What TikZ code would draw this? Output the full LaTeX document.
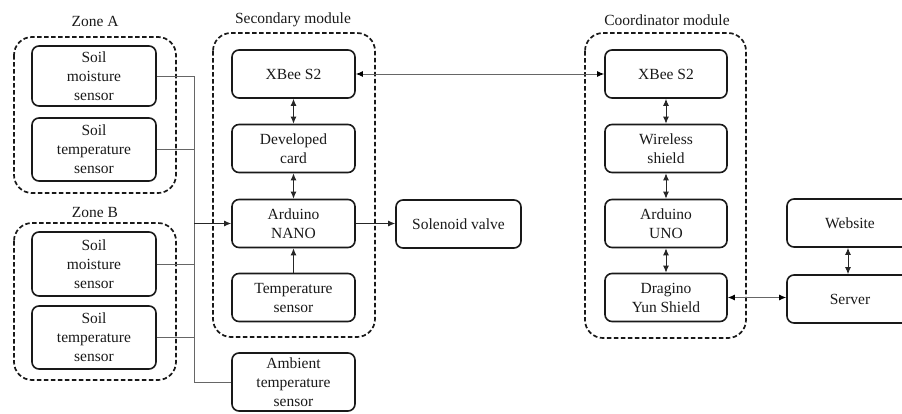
\documentclass[tikz,border=0pt]{standalone}
\usepackage{fontspec}
\setmainfont{Liberation Serif}
\usetikzlibrary{arrows.meta}
\begin{document}
\begin{tikzpicture}[x=1pt,y=-1pt,
  box/.style={draw=black!90, line width=1.6pt, rounded corners=7pt, align=center,
    minimum width=123pt, minimum height=48pt, inner sep=1pt,
    font=\fontsize{15.5}{19}\selectfont, text=black!90},
  group/.style={draw=black!90, line width=1.7pt, dash pattern=on 4.5pt off 2.5pt, rounded corners=18pt},
  glabel/.style={font=\fontsize{15.5}{19}\selectfont, text=black!90},
  wire/.style={draw=black!60, line width=1pt},
  tip/.style={-{Latex[length=7pt,width=6pt]}, draw=black!85, line width=1pt},
  dtip/.style={{Latex[length=7pt,width=6pt]}-{Latex[length=7pt,width=6pt]}, draw=black!85, line width=1pt},
  gdtip/.style={{Latex[length=7pt,width=6pt,color=black]}-{Latex[length=7pt,width=6pt,color=black]}, draw=black!60, line width=1pt}]
\useasboundingbox (0,0) rectangle (902,413);
\clip (0,0) rectangle (902,413);
% groups
\draw[group] (14,37) rectangle (176,193);
\node[glabel] (lza) at (95,21) {Zone A};
\draw[group] (14,223) rectangle (176,380);
\node[glabel] (lzb) at (95,212) {Zone B};
\draw[group] (213,33) rectangle (375,337);
\node[glabel] (lsm) at (293,20) {Secondary module};
\draw[group] (585,33) rectangle (746,338);
\node[glabel] (lcm) at (667,20) {Coordinator module};
% boxes
\node[box, minimum width=124pt, minimum height=60pt] (smA) at (94,76) {Soil\\moisture\\sensor};
\node[box, minimum width=124pt, minimum height=63pt] (stA) at (94,149.5) {Soil\\temperature\\sensor};
\node[box, minimum width=124pt, minimum height=64pt] (smB) at (94,264) {Soil\\moisture\\sensor};
\node[box, minimum width=124pt, minimum height=63pt] (stB) at (94,337.5) {Soil\\temperature\\sensor};
\node[box] (xb1) at (293.5,74) {XBee S2};
\node[box] (dev) at (293.5,148.5) {Developed\\card};
\node[box] (nano) at (293.5,223.5) {Arduino\\NANO};
\node[box] (ts) at (293.5,297.5) {Temperature\\sensor};
\node[box, minimum height=58pt] (amb) at (293.5,382) {Ambient\\temperature\\sensor};
\node[box, minimum width=125pt] (sol) at (458.5,224) {Solenoid valve};
\node[box, minimum width=122pt] (xb2) at (666,74) {XBee S2};
\node[box, minimum width=122pt] (wl) at (666,148.5) {Wireless\\shield};
\node[box, minimum width=122pt] (uno) at (666,223.5) {Arduino\\UNO};
\node[box, minimum width=122pt] (dra) at (666,297.5) {Dragino\\Yun Shield};
\node[box, minimum width=126pt] (web) at (850,223) {Website};
\node[box, minimum width=126pt] (srv) at (850,299) {Server};
% sensor bus
\coordinate (bx) at (194,0);
\draw[wire] (smA.east) -- (smA.east -| bx) |- (amb.west);
\draw[wire] (stA.east) -- (stA.east -| bx);
\draw[wire] (smB.east) -- (smB.east -| bx);
\draw[wire] (stB.east) -- (stB.east -| bx);
\draw[tip] (nano.west -| bx) -- (nano.west);
% secondary module
\draw[dtip] (xb1) -- (dev);
\draw[dtip] (dev) -- (nano);
\draw[tip] (ts) -- (nano);
\draw[tip] (nano.east) -- (nano.east -| sol.west);
% wireless link
\draw[gdtip] (xb1.east) -- (xb2.west);
% coordinator
\draw[dtip] (xb2) -- (wl);
\draw[dtip] (wl) -- (uno);
\draw[dtip] (uno) -- (dra);
\draw[gdtip] (dra.east) -- (dra.east -| srv.west);
\draw[dtip] (web.south -| 848,0) -- (srv.north -| 848,0);
\end{tikzpicture}
\end{document}
